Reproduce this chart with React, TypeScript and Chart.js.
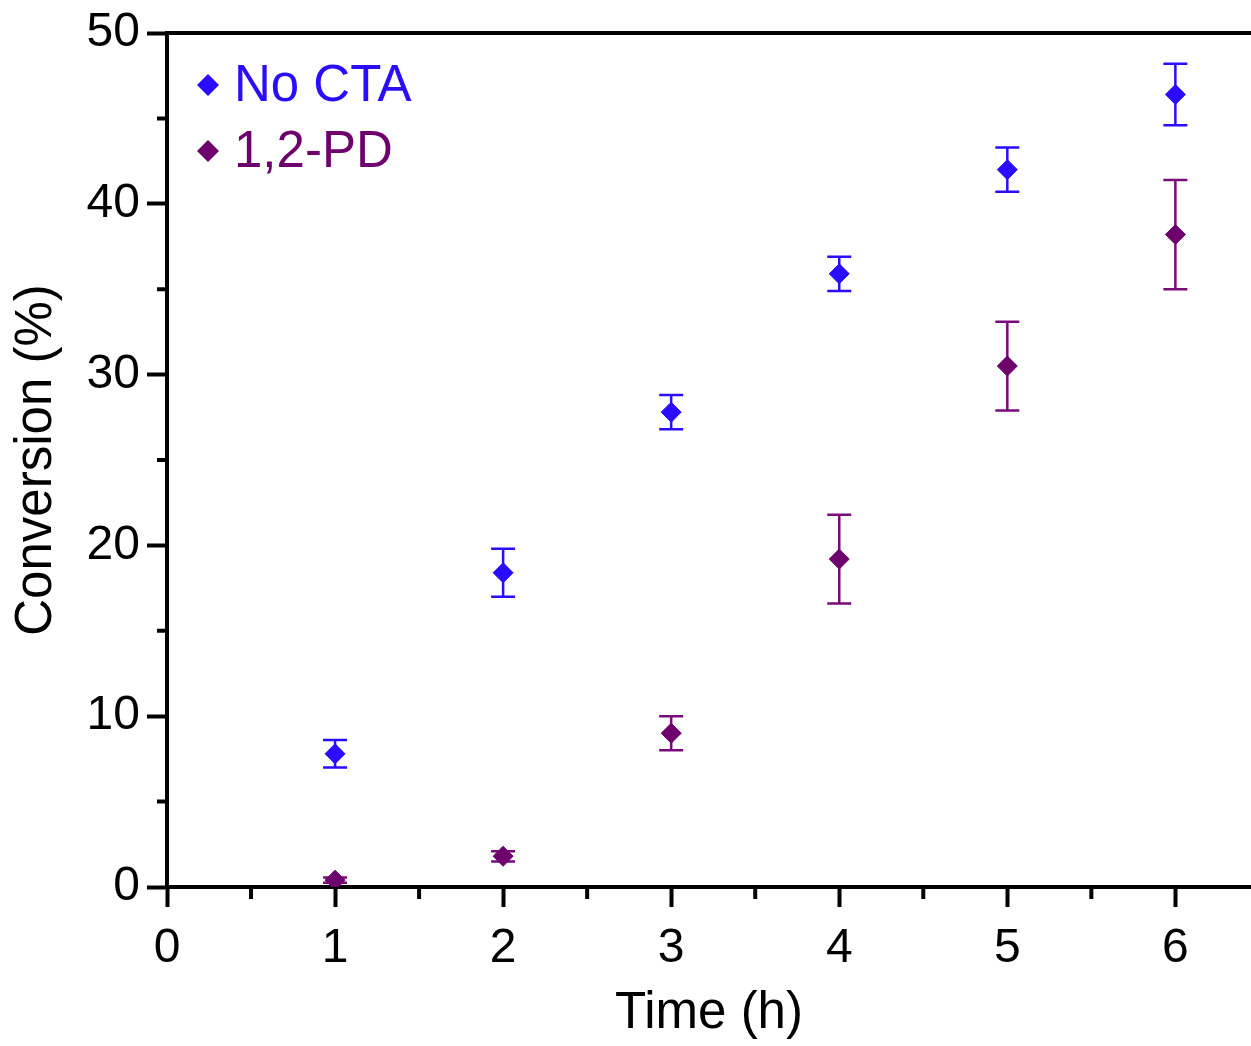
import React, { useEffect, useRef } from "react";
import { Chart, registerables } from "chart.js";

Chart.register(...registerables);

// ---- data ----
const times = [1, 2, 3, 4, 5, 6];
const noCtaMean = [7.8, 18.4, 27.8, 35.9, 42.0, 46.4];
const noCtaErr = [0.8, 1.4, 1.0, 1.0, 1.3, 1.8];
const pdMean = [0.4, 1.8, 9.0, 19.2, 30.5, 38.2];
const pdErr = [0.15, 0.3, 1.0, 2.6, 2.6, 3.2];

const seriesNames = ["No CTA", "1,2-PD"];
const seriesColors = ["#2A0CFF", "#6E006E"];
const errColors = ["#2A0CFF", "#7A0A7A"];

const xTicks = [0, 1, 2, 3, 4, 5, 6];
const yTicks = [0, 10, 20, 30, 40, 50];
const xMinorTicks = [0.5, 1.5, 2.5, 3.5, 4.5, 5.5];
const yMinorTicks = [5, 15, 25, 35, 45];

const xTitle = "Time (h)";
const yTitle = "Conversion (%)";

const FONT = "'Liberation Sans', Arial, Helvetica, sans-serif";

const errorBarPlugin = {
  id: "errorBars",
  beforeDatasetsDraw(chart: any) {
    const ctx = chart.ctx;
    const xs = chart.scales.x;
    const ys = chart.scales.y;
    chart.data.datasets.forEach((ds: any) => {
      const errs: number[] = ds.errors || [];
      ctx.save();
      ctx.strokeStyle = ds.errorColor;
      ctx.lineWidth = 2.5;
      ds.data.forEach((p: any, i: number) => {
        const e = errs[i] || 0;
        const px = xs.getPixelForValue(p.x);
        const top = ys.getPixelForValue(p.y + e);
        const bot = ys.getPixelForValue(p.y - e);
        const cap = 12;
        ctx.beginPath();
        ctx.moveTo(px, top);
        ctx.lineTo(px, bot);
        ctx.moveTo(px - cap, top);
        ctx.lineTo(px + cap, top);
        ctx.moveTo(px - cap, bot);
        ctx.lineTo(px + cap, bot);
        ctx.stroke();
      });
      ctx.restore();
    });
  },
};

const decorPlugin = {
  id: "decor",
  afterDraw(chart: any) {
    const ctx = chart.ctx;
    const area = chart.chartArea;
    const xs = chart.scales.x;
    const ys = chart.scales.y;
    ctx.save();
    ctx.strokeStyle = "#000";
    ctx.lineWidth = 4;
    // top frame line
    ctx.beginPath();
    ctx.moveTo(area.left - 2, area.top);
    ctx.lineTo(area.right, area.top);
    ctx.stroke();
    // minor ticks
    ctx.beginPath();
    yMinorTicks.forEach((v) => {
      const py = ys.getPixelForValue(v);
      ctx.moveTo(area.left - 10, py);
      ctx.lineTo(area.left, py);
    });
    xMinorTicks.forEach((v) => {
      const px = xs.getPixelForValue(v);
      ctx.moveTo(px, area.bottom);
      ctx.lineTo(px, area.bottom + 12);
    });
    ctx.stroke();

    // legend
    chart.data.datasets.forEach((ds: any, i: number) => {
      const cx = area.left + 41;
      const cy = area.top + 52 + i * 66;
      const r = 11;
      ctx.fillStyle = ds.backgroundColor;
      ctx.beginPath();
      ctx.moveTo(cx, cy - r);
      ctx.lineTo(cx + r, cy);
      ctx.lineTo(cx, cy + r);
      ctx.lineTo(cx - r, cy);
      ctx.closePath();
      ctx.fill();
      ctx.font = `51px ${FONT}`;
      ctx.textBaseline = "middle";
      ctx.textAlign = "left";
      ctx.fillText(ds.label, cx + 26, cy + 2);
    });
    ctx.restore();
  },
};

export default function App() {
  const ref = useRef<HTMLCanvasElement | null>(null);

  useEffect(() => {
    document.body.style.margin = "0";
    if (!ref.current) return;
    const means = [noCtaMean, pdMean];
    const errs = [noCtaErr, pdErr];
    const chart = new Chart(ref.current, {
      type: "scatter",
      data: {
        datasets: seriesNames.map((name, s) => ({
          label: name,
          data: times.map((t, i) => ({ x: t, y: means[s][i] })),
          errors: errs[s],
          errorColor: errColors[s],
          backgroundColor: seriesColors[s],
          borderColor: seriesColors[s],
          pointStyle: "rectRot",
          pointRadius: 10,
          pointBorderWidth: 1,
          showLine: false,
        })) as any,
      },
      options: {
        responsive: false,
        animation: false,
        devicePixelRatio: 1,
        layout: { autoPadding: false, padding: { top: 33, right: 0, left: 0, bottom: 0 } },
        plugins: {
          legend: { display: false },
          tooltip: { enabled: false },
        },
        scales: {
          x: {
            type: "linear",
            min: 0,
            max: 6.45,
            afterBuildTicks: (scale: any) => {
              scale.ticks = xTicks.map((v) => ({ value: v }));
            },
            afterFit: (scale: any) => {
              scale.height = 159;
              scale.paddingLeft = 0;
              scale.paddingRight = 0;
            },
            ticks: {
              includeBounds: false,
              color: "#000",
              font: { family: FONT, size: 48 },
              padding: 13,
              maxRotation: 0,
              callback: (v: any) => String(v),
            },
            grid: {
              drawOnChartArea: false,
              drawTicks: true,
              tickLength: 20,
              tickWidth: 4,
              tickColor: "#000",
            },
            border: { display: true, color: "#000", width: 4 },
            title: {
              display: true,
              text: xTitle,
              color: "#000",
              font: { family: FONT, size: 51 },
              padding: { top: 0, bottom: 1 },
            },
          },
          y: {
            type: "linear",
            min: 0,
            max: 50,
            afterBuildTicks: (scale: any) => {
              scale.ticks = yTicks.map((v) => ({ value: v }));
            },
            afterFit: (scale: any) => {
              scale.width = 167;
              scale.paddingTop = 0;
              scale.paddingBottom = 0;
            },
            ticks: {
              color: "#000",
              font: { family: FONT, size: 48 },
              padding: 7,
              callback: (v: any) => String(v),
            },
            grid: {
              drawOnChartArea: false,
              drawTicks: true,
              tickLength: 20,
              tickWidth: 4,
              tickColor: "#000",
            },
            border: { display: true, color: "#000", width: 4 },
            title: {
              display: true,
              text: yTitle,
              color: "#000",
              font: { family: FONT, size: 51 },
              padding: { top: 6, bottom: 0 },
            },
          },
        },
      },
      plugins: [errorBarPlugin, decorPlugin],
    });
    return () => chart.destroy();
  }, []);

  return (
    <div style={{ width: 1251, height: 1046 }}>
      <canvas ref={ref} width={1251} height={1046} style={{ display: "block" }} />
    </div>
  );
}
